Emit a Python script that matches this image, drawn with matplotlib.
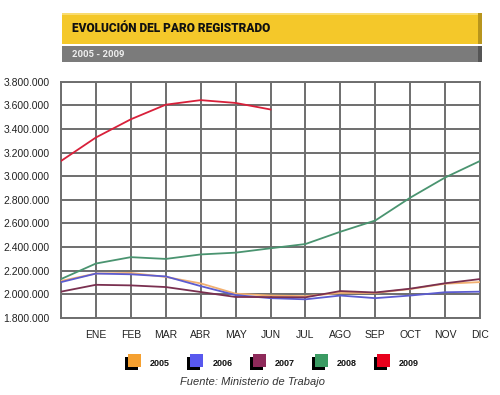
import matplotlib
matplotlib.use("Agg")
import matplotlib.pyplot as plt
from matplotlib.patches import Rectangle

# month labels (position 0 = December of previous year, unlabelled)
months = ['', 'ENE', 'FEB', 'MAR', 'ABR', 'MAY', 'JUN', 'JUL', 'AGO', 'SEP', 'OCT', 'NOV', 'DIC']

paro_2005 = [2113718, 2176563, 2181385, 2147447, 2093000, 2006000, 1990000,
             1985000, 2012000, 2012000, 2045000, 2090000, 2103731]
paro_2006 = [2103731, 2176000, 2170000, 2152000, 2070000, 1994000, 1968000,
             1958000, 1990000, 1968000, 1990000, 2018000, 2022873]
paro_2007 = [2022873, 2081000, 2076000, 2062000, 2020000, 1978000, 1977000,
             1975000, 2028000, 2016000, 2048000, 2094000, 2129547]
paro_2008 = [2129547, 2261000, 2315000, 2300000, 2338000, 2353000, 2390000,
             2426000, 2530000, 2625000, 2818000, 2989000, 3128963]
paro_2009 = [3128963, 3327801, 3481859, 3605402, 3644041, 3620139, 3564889]

years = ['2005', '2006', '2007', '2008', '2009']
series = [paro_2005, paro_2006, paro_2007, paro_2008, paro_2009]
line_colors = ['#f2b070', '#5c5cd0', '#7a3050', '#4a9470', '#d8203a']
legend_colors = ['#f5a030', '#5858ee', '#8e2a5a', '#3a9a62', '#e8001c']

W, H = 500, 395
fig = plt.figure(figsize=(W / 100, H / 100), dpi=100)


def box(x, y, w, h, color, z=1):
    # x, y, w, h in pixels from top-left
    fig.add_artist(Rectangle((x / W, 1 - (y + h) / H), w / W, h / H,
                             transform=fig.transFigure, facecolor=color,
                             edgecolor='none', zorder=z))


# banner
box(62, 13, 420, 31, '#f4c82a')
box(62, 13, 420, 2, '#f9dc70')
box(478, 13, 4, 31, '#b8951c')
box(62, 46, 420, 16, '#7b7b7b')
box(478, 46, 4, 16, '#555555')
fig.text(72 / W, 1 - 29 / H, 'EVOLUCIÓN DEL PARO REGISTRADO', fontsize=8.6,
         fontweight='black', family='Roboto', va='center', ha='left', color='#111111')
fig.text(72 / W, 1 - 54.5 / H, '2005 - 2009', fontsize=6.8,
         fontweight='bold', family='Roboto', va='center', ha='left', color='#eeeeee')

ax = fig.add_axes([61 / W, 1 - 318 / H, 419 / W, 236.3 / H])
for name, vals, c in zip(years, series, line_colors):
    ax.plot(range(len(vals)), vals, color=c, lw=1.3, zorder=3)

ax.set_xlim(0, 12)
ax.set_ylim(1800000, 3800000)
ax.set_xticks(range(13))
ax.set_xticklabels(months)
yt = list(range(1800000, 3800001, 200000))
ax.set_yticks(yt)
ax.set_yticklabels(['{:,}'.format(v).replace(',', '.') for v in yt])
ax.grid(True, color='#6e6e6e', lw=1.4, zorder=1)
for s in ax.spines.values():
    s.set_color('#6e6e6e')
    s.set_linewidth(1.4)
ax.tick_params(length=0, labelsize=7.5, colors='#222222')
ax.tick_params(axis='x', pad=9)
ax.tick_params(axis='y', pad=8)
for lab in ax.get_xticklabels() + ax.get_yticklabels():
    lab.set_family('Liberation Sans')

# legend
for i, (name, c) in enumerate(zip(years, legend_colors)):
    x0 = 128 + i * 62.3
    box(x0 - 3, 357, 13, 13, '#000000', z=2)
    box(x0, 354, 13, 13, c, z=3)
    fig.text((x0 + 22) / W, 1 - 363 / H, name, fontsize=6.5, fontweight='bold',
             family='Liberation Sans', va='center', ha='left', color='#111111')

fig.text(252 / W, 1 - 382 / H, 'Fuente: Ministerio de Trabajo', fontsize=8,
         style='italic', family='Liberation Sans', va='center', ha='center',
         color='#333333')

fig.savefig('out.png', dpi=100)
